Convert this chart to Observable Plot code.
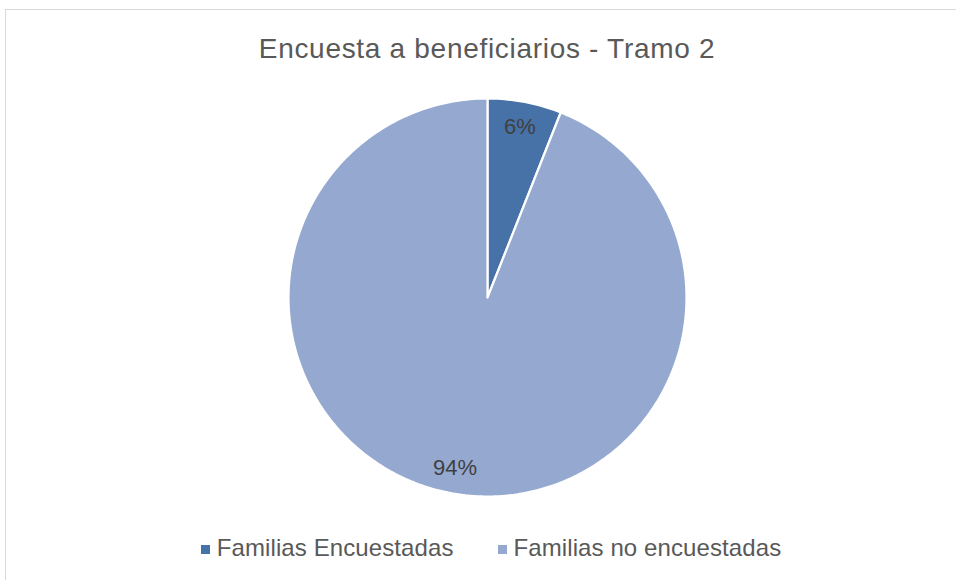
<!DOCTYPE html>
<html>
<head>
<meta charset="utf-8">
<script src="https://cdn.jsdelivr.net/npm/d3@7"></script>
<script src="https://cdn.jsdelivr.net/npm/@observablehq/plot@0.6"></script>
<style>
  html, body { margin: 0; padding: 0; background: #fff; }
  #wrap { position: relative; width: 956px; height: 580px; overflow: hidden; font-family: "Liberation Sans", Arial, sans-serif; }
  #frame { position: absolute; left: 5px; top: 9px; width: 980px; height: 600px; border: 1.5px solid #d9d9d9; box-sizing: border-box; }
  #title { position: absolute; left: 5px; width: 964px; top: 32px; text-align: center; font-size: 28px; letter-spacing: 0.7px; color: #595959; line-height: 34px; white-space: nowrap; }
  #chart { position: absolute; left: 0; top: 85px; }
  #legend { position: absolute; left: 5px; width: 972px; top: 534px; display: flex; justify-content: center; gap: 44px; font-size: 24px; letter-spacing: 0.1px; color: #595959; line-height: 28px; white-space: nowrap; }
  .item { display: flex; align-items: center; }
  .sw { width: 9px; height: 9px; margin-right: 7px; margin-top: 2px; }
</style>
</head>
<body>
<div id="wrap">
  <div id="frame"></div>
  <div id="title"></div>
  <div id="chart"></div>
  <div id="legend"></div>
</div>
<script>
const title = "Encuesta a beneficiarios - Tramo 2";
const categories = ["Familias Encuestadas", "Familias no encuestadas"];
const values = [6, 94];
const labels = ["6%", "94%"];
const colors = ["#4672a8", "#95a9d0"];

document.getElementById("title").textContent = title;

const total = d3.sum(values);
// build slice polygons from the values
const polys = [];
const labelPts = [];
let acc = 0;
values.forEach((v, i) => {
  const f0 = acc / total, f1 = (acc + v) / total;
  acc += v;
  polys.push({cat: categories[i], x: 0, y: 0});
  const n = Math.max(2, Math.ceil((f1 - f0) * 360));
  for (let j = 0; j <= n; j++) {
    const a = 2 * Math.PI * (f0 + (f1 - f0) * j / n);
    polys.push({cat: categories[i], x: Math.sin(a), y: Math.cos(a)});
  }
  polys.push({cat: categories[i], x: 0, y: 0});
  const am = 2 * Math.PI * (f0 + f1) / 2;
  labelPts.push({cat: categories[i], label: labels[i], x: 0.87 * Math.sin(am), y: 0.87 * Math.cos(am)});
});

const cx = 487, cy = 212, R = 199;
const plot = Plot.plot({
  width: 956,
  height: 425,
  margin: 0,
  x: {domain: [-1, 1], range: [cx - R, cx + R], axis: null},
  y: {domain: [-1, 1], range: [cy + R, cy - R], axis: null},
  color: {domain: categories, range: colors},
  style: {fontFamily: "'Liberation Sans', Arial, sans-serif", background: "transparent"},
  marks: [
    Plot.line(polys, {x: "x", y: "y", z: "cat", fill: "cat", stroke: "#ffffff", strokeWidth: 2.2, strokeLinejoin: "miter", curve: "linear"}),
    Plot.text(labelPts, {x: "x", y: "y", text: "label", fontSize: 22, fill: "#404040"})
  ]
});
document.getElementById("chart").appendChild(plot);

const legend = document.getElementById("legend");
categories.forEach((c, i) => {
  const it = document.createElement("div");
  it.className = "item";
  const sw = document.createElement("span");
  sw.className = "sw";
  sw.style.background = colors[i];
  const tx = document.createElement("span");
  tx.textContent = c;
  it.appendChild(sw); it.appendChild(tx);
  legend.appendChild(it);
});
</script>
</body>
</html>
